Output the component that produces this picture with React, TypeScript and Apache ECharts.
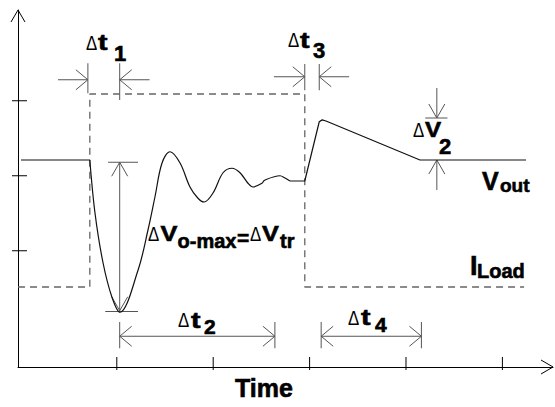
import React, { useEffect, useRef } from "react";
import * as echarts from "echarts";

// ---- axis ranges (arbitrary time / level units) ----
const X_MIN = -2.5;
const X_MAX = 552.5;
const Y_MIN = -0.55;
const Y_MAX = 4.21;

const xTicks = [100, 200, 300, 400, 500];
const yTicks = [1, 2, 3];

// ---- Vout waveform ----
const voutBefore: number[][] = [[0.6, 2.21], [72, 2.21]];
const voutRinging: number[][] = [
  [72, 2.21], [77.4, 1.5], [85.7, 0.84], [95, 0.38], [103.3, 0.18],
  [122, 0.74], [132.4, 1.28], [139.6, 1.72], [146.9, 2.17], [155.2, 2.32],
  [165.6, 2.17], [175.9, 1.85], [184.2, 1.7], [190.5, 1.65], [199.8, 1.77],
  [210.2, 2.04], [219.5, 2.1], [227.8, 2.04], [236.1, 1.9], [241.3, 1.85],
  [250.6, 1.9], [253.3, 1.94], [269.3, 2.0], [274.5, 1.97], [279.7, 1.93],
];
const voutAfter: number[][] = [
  [279.7, 1.93], [295, 1.93], [310, 2.72], [313, 2.745], [317, 2.73],
  [414.5, 2.21], [524.5, 2.21],
];

// ---- ILoad step ----
const iLoad: number[][] = [
  [X_MIN, 0.517], [72, 0.517], [72, 3.09], [295, 3.09], [295, 0.517], [522.5, 0.517],
];

// ---- annotation segments [x1, y1, x2, y2] ----
const annSegments: number[][] = [
  // Δt1
  [39, 3.28, 70, 3.28], [70, 3.5, 70, 3.1], [103, 3.5, 103, 3.01], [134, 3.28, 103, 3.28],
  // Δt3
  [263, 3.32, 295, 3.32], [295, 3.49, 295, 3.14], [310, 3.49, 310, 3.14], [341, 3.32, 310, 3.32],
  // ΔV2
  [432, 3.17, 432, 2.77], [420, 2.77, 443, 2.77], [432, 1.81, 432, 2.21],
  // ΔVo-max
  [103, 2.18, 103, 0.2], [91, 2.18, 122, 2.18], [88, 0.19, 122, 0.19],
  // Δt2
  [103, -0.14, 264, -0.14], [103, 0.05, 103, -0.3], [264, 0.05, 264, -0.3],
  // Δt4
  [312, -0.14, 416, -0.14], [312, 0.05, 312, -0.3], [416, 0.05, 416, -0.3],
];

// arrowheads [x, y, dir] dir: 0 right, 1 left, 2 up, 3 down
const hHeads: number[][] = [
  [70, 3.28, 0], [103, 3.28, 1],
  [295, 3.32, 0], [310, 3.32, 1],
  [103, -0.14, 1], [264, -0.14, 0],
  [312, -0.14, 1], [416, -0.14, 0],
];
const vHeads: number[][] = [
  [432, 2.77, 3], [432, 2.21, 2],
  [103, 2.18, 2], [103, 0.2, 3],
];
const axisHeads: number[][] = [[X_MAX, Y_MIN, 0], [X_MIN, Y_MAX, 2]];

const FONT = '"Liberation Sans", Arial, Helvetica, sans-serif';
type Piece = { text: string; x: number; y: number; size: number; bold?: boolean; sx?: number };
const labels: Piece[] = [
  // Δt1
  { text: "Δ", x: 86, y: 42.5, size: 21, sx: 0.8 },
  { text: "t", x: 98, y: 42.5, size: 22, bold: true, sx: 1.3 },
  { text: "1", x: 114, y: 53.5, size: 22, bold: true },
  // Δt3
  { text: "Δ", x: 288, y: 40, size: 21, sx: 0.8 },
  { text: "t", x: 300, y: 40, size: 22, bold: true, sx: 1.3 },
  { text: "3", x: 313, y: 50, size: 22, bold: true },
  // Δt2
  { text: "Δ", x: 178, y: 320, size: 21, sx: 0.8 },
  { text: "t", x: 191, y: 320, size: 22, bold: true, sx: 1.3 },
  { text: "2", x: 204, y: 326.5, size: 21, bold: true },
  // Δt4
  { text: "Δ", x: 348, y: 317.5, size: 21, sx: 0.8 },
  { text: "t", x: 361, y: 317.5, size: 22, bold: true, sx: 1.3 },
  { text: "4", x: 375, y: 324, size: 21, bold: true },
  // ΔV2
  { text: "Δ", x: 413, y: 130, size: 21, sx: 0.8 },
  { text: "V", x: 425, y: 129, size: 22, bold: true, sx: 1.1 },
  { text: "2", x: 439, y: 146, size: 22, bold: true },
  // Vout
  { text: "V", x: 482, y: 181, size: 25, bold: true },
  { text: "out", x: 500, y: 185.5, size: 19, bold: true },
  // ILoad
  { text: "I", x: 470, y: 265.5, size: 27, bold: true },
  { text: "Load", x: 477, y: 271, size: 20, bold: true },
  // ΔVo-max = ΔVtr
  { text: "Δ", x: 148, y: 234, size: 21, sx: 0.8 },
  { text: "V", x: 160.5, y: 234, size: 22, bold: true, sx: 1.15 },
  { text: "o-max", x: 177.5, y: 241, size: 20, bold: true },
  { text: "=", x: 237, y: 237, size: 21, bold: true },
  { text: "Δ", x: 250, y: 234, size: 21, sx: 0.8 },
  { text: "V", x: 262, y: 234, size: 22, bold: true, sx: 1.15 },
  { text: "tr", x: 280, y: 241, size: 20, bold: true },
  // axis title
  { text: "Time", x: 235, y: 388, size: 25, bold: true },
];

const segSeries = (data: number[][], color: string, width: number) => ({
  type: "custom",
  coordinateSystem: "cartesian2d",
  silent: true,
  clip: false,
  encode: { x: [0, 2], y: [1, 3] },
  data,
  renderItem: (_p: any, api: any) => {
    const a = api.coord([api.value(0), api.value(1)]);
    const b = api.coord([api.value(2), api.value(3)]);
    return {
      type: "line",
      shape: { x1: a[0], y1: a[1], x2: b[0], y2: b[1] },
      style: { stroke: color, lineWidth: width, fill: "none" },
    };
  },
});

const DIRS = [[1, 0], [-1, 0], [0, -1], [0, 1]];
const headSeries = (data: number[][], len: number, half: number, color: string) => ({
  type: "custom",
  coordinateSystem: "cartesian2d",
  silent: true,
  clip: false,
  encode: { x: 0, y: 1 },
  data,
  renderItem: (_p: any, api: any) => {
    const p = api.coord([api.value(0), api.value(1)]);
    const [dx, dy] = DIRS[api.value(2)];
    const bx = p[0] - dx * len;
    const by = p[1] - dy * len;
    const nx = -dy;
    const ny = dx;
    return {
      type: "polyline",
      shape: { points: [[bx + nx * half, by + ny * half], [p[0], p[1]], [bx - nx * half, by - ny * half]] },
      style: { stroke: color, lineWidth: 1, fill: "none" },
    };
  },
});

const tickSeries = (data: number[][], horizontal: boolean) => ({
  type: "custom",
  coordinateSystem: "cartesian2d",
  silent: true,
  clip: false,
  encode: { x: 0, y: 1 },
  data,
  renderItem: (_p: any, api: any) => {
    const p = api.coord([api.value(0), api.value(1)]);
    const shape = horizontal
      ? { x1: p[0] - 6, y1: p[1], x2: p[0] + 9, y2: p[1] }
      : { x1: p[0], y1: p[1] - 10, x2: p[0], y2: p[1] + 3 };
    return { type: "line", shape, style: { stroke: "#000", lineWidth: 1 } };
  },
});

const axisCommon = {
  type: "value",
  axisLine: { show: true, onZero: false, lineStyle: { color: "#000", width: 1 } },
  axisTick: { show: false },
  axisLabel: { show: false },
  splitLine: { show: false },
};

export default function App() {
  const ref = useRef<HTMLDivElement>(null);
  useEffect(() => {
    if (!ref.current) return;
    const chart = echarts.init(ref.current, null, { renderer: "svg" });
    const lineBase = {
      type: "line",
      symbol: "none",
      showSymbol: false,
      silent: true,
      clip: false,
    };
    chart.setOption({
      animation: false,
      backgroundColor: "#fff",
      grid: { left: 18, right: 2, top: 10, bottom: 40 },
      xAxis: { ...axisCommon, min: X_MIN, max: X_MAX },
      yAxis: { ...axisCommon, min: Y_MIN, max: Y_MAX },
      series: [
        { ...lineBase, data: iLoad, lineStyle: { color: "#666", width: 1.3, type: [7, 5] } },
        { ...lineBase, data: voutBefore, lineStyle: { color: "#111", width: 1.2 } },
        { ...lineBase, data: voutRinging, smooth: 0.35, lineStyle: { color: "#111", width: 1.2 } },
        { ...lineBase, data: voutAfter, lineStyle: { color: "#111", width: 1.2 } },
        segSeries(annSegments, "#555", 1),
        headSeries(hHeads, 12, 10, "#555"),
        headSeries(vHeads, 14, 8, "#555"),
        headSeries(axisHeads, 12, 7, "#000"),
        tickSeries(xTicks.map((v) => [v, Y_MIN]), false),
        tickSeries(yTicks.map((v) => [X_MIN, v]), true),
      ],
      graphic: labels.map((p) => ({
        type: "text",
        x: p.x,
        y: p.y,
        scaleX: p.sx ?? 1,
        silent: true,
        style: {
          text: p.text,
          fill: "#000",
          stroke: p.bold ? "#000" : undefined,
          lineWidth: p.bold ? 0.6 : 0,
          fontSize: p.size,
          fontWeight: p.bold ? "bold" : "normal",
          fontFamily: FONT,
          align: "left",
          verticalAlign: "middle",
        },
      })),
    });
    return () => chart.dispose();
  }, []);
  return (
    <div
      ref={ref}
      style={{ position: "fixed", left: 0, top: 0, width: 555, height: 407, background: "#fff" }}
    />
  );
}
